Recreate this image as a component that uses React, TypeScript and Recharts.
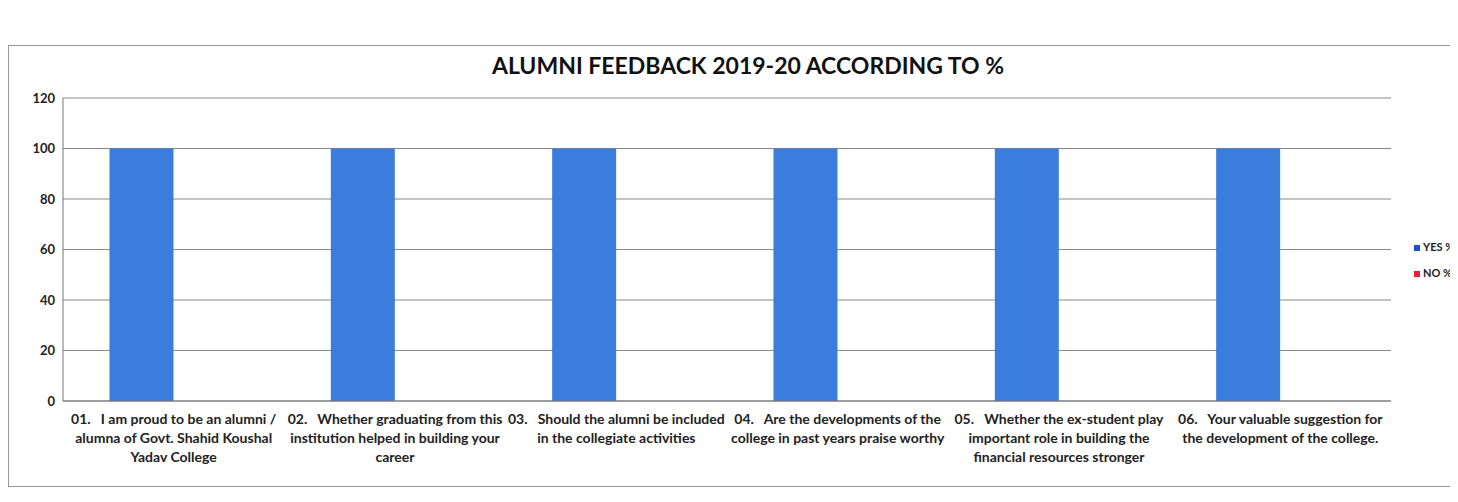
import { BarChart, Bar, XAxis, YAxis, CartesianGrid } from 'recharts';

// survey questions, each already split the way the printed chart wraps them
const categories = ['01', '02', '03', '04', '05', '06'];
const categoryLines = [
  ['01.   I am proud to be an alumni /', 'alumna of Govt. Shahid Koushal', 'Yadav College'],
  ['02.   Whether graduating from this', 'institution helped in building your', 'career'],
  ['03.   Should the alumni be included', 'in the collegiate activities'],
  ['04.   Are the developments of the', 'college in past years praise worthy'],
  ['05.   Whether the ex-student play', 'important role in building the', 'financial resources stronger'],
  ['06.   Your valuable suggestion for', 'the development of the college.'],
];
const yesValues = [100, 100, 100, 100, 100, 100];
const noValues = [0, 0, 0, 0, 0, 0];
const yTicks = [0, 20, 40, 60, 80, 100, 120];

const data = categories.map((c, i) => ({ name: c, yes: yesValues[i], no: noValues[i] }));

const FONT = 'Lato, "Open Sans", sans-serif';

const CategoryTick = (props: any) => {
  const { x, y, index } = props;
  const lines = categoryLines[index] || [];
  return (
    <text x={x} y={y + 15} textAnchor="middle" fontFamily={FONT} fontSize={14} fontWeight={700} fill="#222" style={{ whiteSpace: 'pre' }}>
      {lines.map((l, i) => (
        <tspan key={i} x={x} dy={i === 0 ? 0 : 19}>{l}</tspan>
      ))}
    </text>
  );
};

const App = () => {
  return (
    <div style={{ position: 'relative', width: 1450, height: 442, marginTop: 37, border: '1px solid #999', boxSizing: 'border-box', background: '#fff', overflow: 'hidden' }}>
      <div style={{ position: 'absolute', top: 5, left: 0, width: 1478, textAlign: 'center', fontFamily: FONT, fontWeight: 700, fontSize: 23, color: '#111' }}>
        ALUMNI FEEDBACK 2019-20 ACCORDING TO %
      </div>
      <BarChart width={1450} height={440} data={data} margin={{ top: 52, right: 68, bottom: 25, left: 0 }} barCategoryGap="21%" barGap={0}>
        <CartesianGrid vertical={false} stroke="#888" />
        <XAxis dataKey="name" tick={<CategoryTick />} tickLine={false} axisLine={{ stroke: '#777' }} interval={0} height={60} />
        <YAxis domain={[0, 120]} ticks={yTicks} width={54} tickLine={false} axisLine={{ stroke: '#777' }}
          tick={{ fontFamily: FONT, fontSize: 13, fontWeight: 700, fill: '#222' }} />
        <Bar dataKey="yes" name="YES %" fill="#3b7ddd" isAnimationActive={false} />
        <Bar dataKey="no" name="NO %" fill="#ee1c3a" isAnimationActive={false} />
      </BarChart>
      <div style={{ position: 'absolute', left: 1405, top: 188, fontFamily: FONT, fontSize: 11, fontWeight: 700, color: '#222', lineHeight: '26px', whiteSpace: 'nowrap' }}>
        <div><span style={{ display: 'inline-block', width: 6, height: 6, background: '#1f4fd1', marginRight: 3 }} />YES %</div>
        <div><span style={{ display: 'inline-block', width: 6, height: 6, background: '#ee1c3a', marginRight: 3 }} />NO %</div>
      </div>
    </div>
  );
};

export default App;
